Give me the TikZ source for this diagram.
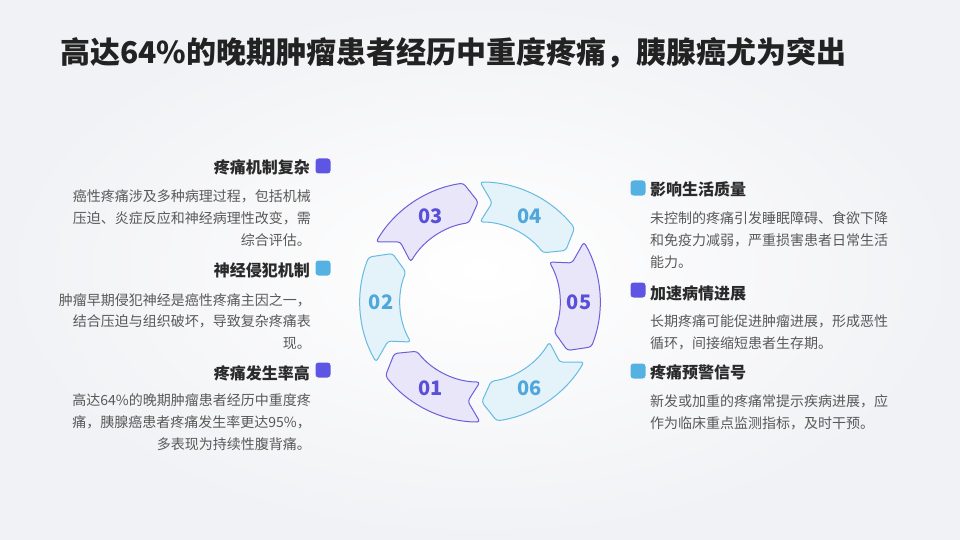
\documentclass[tikz,border=0pt]{standalone}
\usepackage{fontspec}
\setmainfont{Noto Sans CJK SC}
\definecolor{pu}{HTML}{5F55E3}
\definecolor{puline}{HTML}{6C5FDB}
\definecolor{pufill}{HTML}{E8E6F8}
\definecolor{putext}{HTML}{5A4FD8}
\definecolor{bl}{HTML}{55B1E1}
\definecolor{blline}{HTML}{66BBE2}
\definecolor{blfill}{HTML}{E4F2FA}
\definecolor{bltext}{HTML}{4FA7DB}
\definecolor{titlec}{HTML}{222222}
\definecolor{headc}{HTML}{2A2A2A}
\definecolor{bodyc}{HTML}{595959}
\definecolor{bgc}{HTML}{F1F2F5}
\tikzset{
  seg/.style={line width=1pt, rounded corners=3pt, line join=round},
  numlbl/.style={font=\fontsize{20}{22}\selectfont\bfseries, inner sep=0},
  head/.style={font=\fontsize{16}{18}\selectfont\bfseries, text=headc, inner sep=0},
  body/.style={font=\fontsize{14}{16}\selectfont, text=bodyc, inner sep=0},
  sq/.style={minimum size=15pt, inner sep=0, rounded corners=3pt, draw=none},
}
\newcommand\ringseg[5]{%
  \draw[seg, draw=#2, fill=#3]
    (#1+30:120) arc[start angle=#1+30, end angle=#1-22, radius=120]
    -- (#1-29:100) -- (#1-22:80)
    arc[start angle=#1-22, end angle=#1+30, radius=80]
    -- (#1+23:100) -- cycle;
  \node[numlbl, text=#4] (n#5) at (#1:99) {#5};
}
\begin{document}
\begin{tikzpicture}[x=1pt, y=-1pt]
\useasboundingbox (0,0) rectangle (960,540);
\shade[inner color=white, outer color=bgc] (0,0) rectangle (960,540);

% title
\node[anchor=base west, inner sep=0, text=titlec, font=\fontsize{30}{32}\selectfont\bfseries] (title) at (60,64) {高达64\%的晚期肿瘤患者经历中重度疼痛，胰腺癌尤为突出};

% ring
\begin{scope}[shift={(480,302)}, yscale=-1]
  \ringseg{240}{puline}{pufill}{putext}{01}
  \ringseg{180}{blline}{blfill}{bltext}{02}
  \ringseg{120}{puline}{pufill}{putext}{03}
  \ringseg{60}{blline}{blfill}{bltext}{04}
  \ringseg{0}{puline}{pufill}{putext}{05}
  \ringseg{-60}{blline}{blfill}{bltext}{06}
\end{scope}

% left column
\node[sq, fill=pu] (s1) at (323,166) {};
\node[head, anchor=base east] (h1) at (310,174) {疼痛机制复杂};
\node[body, anchor=base east] (b1a) at (311,201) {癌性疼痛涉及多种病理过程，包括机械};
\node[body, anchor=base east] (b1b) at (311,223) {压迫、炎症反应和神经病理性改变，需};
\node[body, anchor=base east] (b1c) at (311,245) {综合评估。};

\node[sq, fill=bl] (s2) at (323,268) {};
\node[head, anchor=base east] (h2) at (310,276) {神经侵犯机制};
\node[body, anchor=base east] (b2a) at (311,305) {肿瘤早期侵犯神经是癌性疼痛主因之一，};
\node[body, anchor=base east] (b2b) at (311,326) {结合压迫与组织破坏，导致复杂疼痛表};
\node[body, anchor=base east] (b2c) at (311,348) {现。};

\node[sq, fill=pu] (s3) at (323,370) {};
\node[head, anchor=base east] (h3) at (310,379) {疼痛发生率高};
\node[body, anchor=base east] (b3a) at (311,405) {高达64\%的晚期肿瘤患者经历中重度疼};
\node[body, anchor=base east] (b3b) at (311,427) {痛，胰腺癌患者疼痛发生率更达95\%，};
\node[body, anchor=base east] (b3c) at (311,449) {多表现为持续性腹背痛。};

% right column
\node[sq, fill=bl] (s4) at (638,188) {};
\node[head, anchor=base west] (h4) at (650,196) {影响生活质量};
\node[body, anchor=base west] (b4a) at (650,223) {未控制的疼痛引发睡眠障碍、食欲下降};
\node[body, anchor=base west] (b4b) at (650,245) {和免疫力减弱，严重损害患者日常生活};
\node[body, anchor=base west] (b4c) at (650,267) {能力。};

\node[sq, fill=pu] (s5) at (638,290) {};
\node[head, anchor=base west] (h5) at (650,299) {加速病情进展};
\node[body, anchor=base west] (b5a) at (650,326) {长期疼痛可能促进肿瘤进展，形成恶性};
\node[body, anchor=base west] (b5b) at (650,348) {循环，间接缩短患者生存期。};

\node[sq, fill=bl] (s6) at (638,371) {};
\node[head, anchor=base west] (h6) at (650,378) {疼痛预警信号};
\node[body, anchor=base west] (b6a) at (650,406) {新发或加重的疼痛常提示疾病进展，应};
\node[body, anchor=base west] (b6b) at (650,428) {作为临床重点监测指标，及时干预。};
\end{tikzpicture}
\end{document}
